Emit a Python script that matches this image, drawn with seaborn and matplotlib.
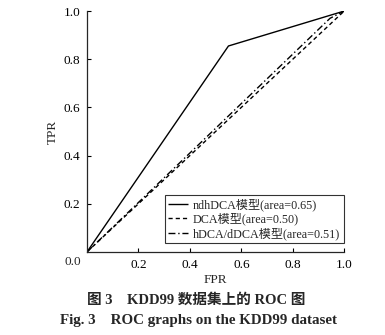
import matplotlib
matplotlib.use("Agg")
import matplotlib.pyplot as plt
import seaborn as sns
import pandas as pd

# ROC curve points (FPR, TPR) for each model
ndh_fpr = [0.0, 0.55, 1.0]
ndh_tpr = [0.0, 0.855, 1.0]
dca_fpr = [0.0, 1.0]
dca_tpr = [0.0, 1.0]
hd_fpr = [0.0, 0.945, 1.0]
hd_tpr = [0.0, 0.97, 1.0]

labels = ["ndhDCA模型(area=0.65)", "DCA模型(area=0.50)", "hDCA/dDCA模型(area=0.51)"]
ticks = [0.2, 0.4, 0.6, 0.8, 1.0]
tick_labels = ["0.2", "0.4", "0.6", "0.8", "1.0"]

sns.set_style("ticks")
plt.rcParams["font.family"] = ["Liberation Serif", "Noto Sans CJK SC"]
plt.rcParams["axes.linewidth"] = 0.9

frames = []
for name, fx, fy in zip(labels, [ndh_fpr, dca_fpr, hd_fpr], [ndh_tpr, dca_tpr, hd_tpr]):
    frames.append(pd.DataFrame({"FPR": fx, "TPR": fy, "model": name}))
df = pd.concat(frames, ignore_index=True)

fig = plt.figure(figsize=(3.85, 3.35), dpi=100)
ax = fig.add_axes([0.226, 0.248, 0.668, 0.719])

styles = [(0, ()), (0, (3, 2.2)), (0, (5, 2, 1, 2))]
for name, ls in zip(labels, styles):
    sub = df[df["model"] == name]
    sns.lineplot(data=sub, x="FPR", y="TPR", ax=ax, color="black", lw=1.0,
                 linestyle=ls, label=name, sort=False, estimator=None)

ax.set_xlim(0, 1)
ax.set_ylim(0, 1)
sns.despine(ax=ax)
ax.set_xticks(ticks)
ax.set_xticklabels(tick_labels)
ax.set_yticks(ticks)
ax.set_yticklabels(tick_labels)
ax.tick_params(direction="in", length=3, width=0.8, labelsize=9.5, pad=5, colors="black")
ax.text(-0.054, -0.041, "0.0", ha="center", va="center", fontsize=9.5,
        transform=ax.transData, clip_on=False)
ax.set_xlabel("FPR", fontsize=9.5, labelpad=2)
ax.set_ylabel("TPR", fontsize=9.5, labelpad=3)

leg = ax.legend(loc="lower right", fontsize=8.7, frameon=True, fancybox=False,
                edgecolor="black", handlelength=1.6, handletextpad=0.45,
                borderpad=0.28, labelspacing=0.15, borderaxespad=0,
                bbox_to_anchor=(0.998, 0.035))
leg.get_frame().set_linewidth(0.8)

fig.text(0.51, 0.104, "图 3    KDD99 数据集上的 ROC 图", ha="center", va="center",
         fontsize=10.5, fontweight="bold")
fig.text(0.515, 0.042, "Fig. 3    ROC graphs on the KDD99 dataset", ha="center", va="center",
         fontsize=10.8, fontweight="bold")

fig.savefig("out.png", dpi=100)
